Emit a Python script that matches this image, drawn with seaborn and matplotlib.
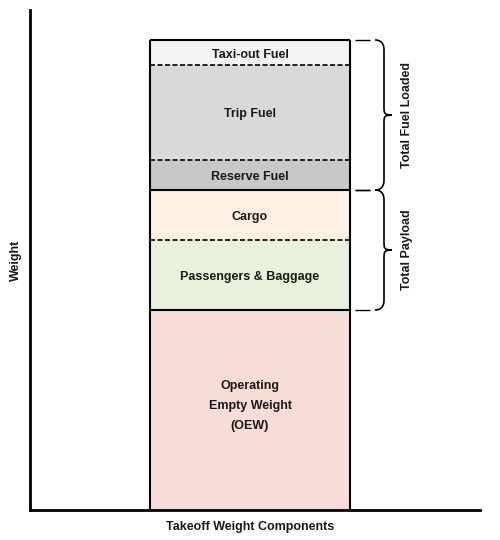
import numpy as np
import pandas as pd
import matplotlib
matplotlib.use("Agg")
import matplotlib.pyplot as plt
from matplotlib.path import Path
from matplotlib.patches import PathPatch
import seaborn as sns

# segments, bottom to top
segments = ["Operating\nEmpty Weight\n(OEW)", "Passengers & Baggage", "Cargo",
            "Reserve Fuel", "Trip Fuel", "Taxi-out Fuel"]
weights = [200, 70, 50, 30, 95, 25]
colors = ["#f8dcd8", "#e9f0dc", "#fff0e5", "#c8c8c8", "#d9d9d9", "#f2f2f2"]
# separator style above each segment (last one is the bar top)
separators = ["solid", "dashed", "solid", "dashed", "dashed", "solid"]
groups = [("Total Payload", 1, 2), ("Total Fuel Loaded", 3, 5)]
category = "Takeoff Weight Components"

sns.set_style("white")
plt.rcParams["font.family"] = ["Liberation Sans", "DejaVu Sans"]
plt.rcParams["font.weight"] = "bold"
FS = 9

fig = plt.figure(figsize=(5, 5.4), dpi=100)
ax = fig.add_axes([30 / 500, 30 / 540, 450 / 500, 500 / 540])

bottoms = np.concatenate([[0], np.cumsum(weights)[:-1]])
tops = np.cumsum(weights)
for seg, w, b, c in zip(segments, weights, bottoms, colors):
    df = pd.DataFrame({"cat": [category], "w": [w]})
    sns.barplot(data=df, x="cat", y="w", bottom=b, color=c, width=1.0,
                edgecolor="none", linewidth=0, ax=ax, saturation=1)
    yc = b + w / 2 + (4 if "\n" in seg else -2)
    ax.text(0, yc, seg, ha="center", va="center", fontsize=FS,
            color="#1a1a1a", fontweight="bold", linespacing=1.85)

# outline and separators
ax.vlines([-0.5, 0.5], 0, tops[-1], color="black", lw=1.5, zorder=5)
for t, s in zip(tops, separators):
    if s == "dashed":
        ax.hlines(t, -0.5, 0.5, color="black", lw=1.2, linestyles=(0, (3, 1.5)), zorder=5)
    else:
        ax.hlines(t, -0.5, 0.5, color="black", lw=1.5, zorder=5)

# braces on the right
def brace(ax, y0, y1, x0=0.625, x1=0.67, xt=0.71):
    ym = (y0 + y1) / 2
    verts = [(x0, y0), (x1, y0), (x1, y0 + 8), (x1, y0 + 10),
             (x1, ym - 8),
             (x1, ym - 2), (x1, ym), (xt, ym),
             (x1, ym), (x1, ym + 2), (x1, ym + 8),
             (x1, y1 - 10),
             (x1, y1 - 8), (x1, y1), (x0, y1)]
    codes = [Path.MOVETO, Path.CURVE4, Path.CURVE4, Path.CURVE4,
             Path.LINETO,
             Path.CURVE4, Path.CURVE4, Path.CURVE4,
             Path.CURVE4, Path.CURVE4, Path.CURVE4,
             Path.LINETO,
             Path.CURVE4, Path.CURVE4, Path.CURVE4]
    ax.add_patch(PathPatch(Path(verts, codes), fc="none", ec="black", lw=1.2))

for name, i0, i1 in groups:
    y0, y1 = bottoms[i0], tops[i1]
    ax.hlines([y0, y1], 0.525, 0.6, color="black", lw=1.0)
    brace(ax, y0, y1)
    ax.text(0.785, (y0 + y1) / 2, name, rotation=90, ha="center", va="center",
            fontsize=FS, color="#1a1a1a", fontweight="bold")

ax.set_xlim(-1.1, 1.15)
ax.set_ylim(0, 500)
ax.set_yticks([])
ax.tick_params(axis="x", length=0, labelsize=FS, pad=8, colors="#1a1a1a")
for lab in ax.get_xticklabels():
    lab.set_fontweight("bold")
ax.set_xlabel("")
ax.set_ylabel("Weight", fontsize=FS, fontweight="bold", color="#1a1a1a", labelpad=6)
sns.despine(ax=ax)
for side in ["left", "bottom"]:
    ax.spines[side].set_linewidth(2)
    ax.spines[side].set_color("black")

fig.savefig("out.png", dpi=100)
